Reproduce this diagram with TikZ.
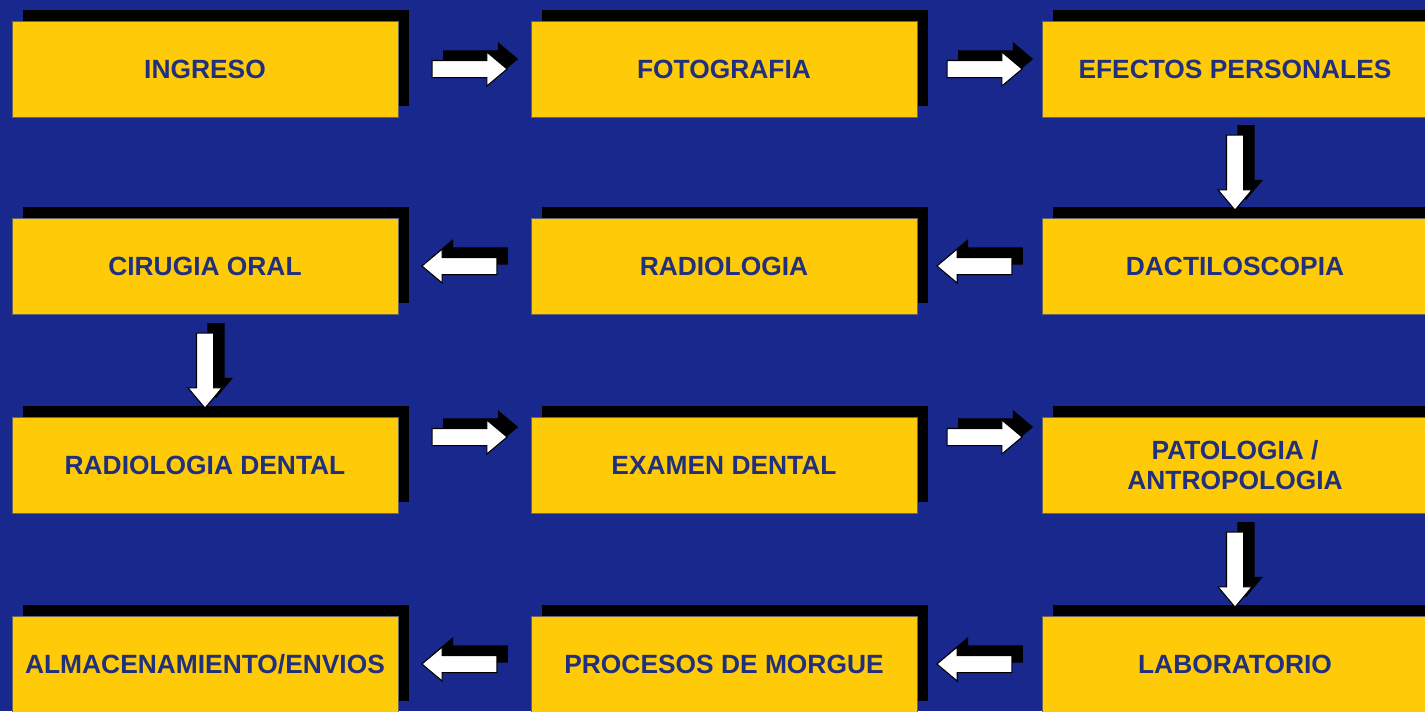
\documentclass[tikz,border=0pt]{standalone}
\usepackage{fontspec}
\setmainfont{Liberation Sans}
\usetikzlibrary{shapes.arrows,shadows,calc}
\definecolor{fondo}{RGB}{24,40,140}
\definecolor{amarillo}{RGB}{255,202,8}
\definecolor{letra}{RGB}{32,48,125}
\tikzset{
  paso/.style={rectangle,fill=amarillo,draw=black!60,line width=0.3pt,
    minimum width=7.72cm,minimum height=1.92cm,align=center,text=letra,
    font=\fontsize{15}{17.5}\selectfont\bfseries,
    drop shadow={shadow xshift=0.22cm,shadow yshift=0.22cm,fill=black,opacity=1}},
  flecha/.style={single arrow,fill=white,draw=black,line width=0.6pt,
    minimum height=1.5cm,inner sep=0.16cm,
    single arrow head extend=0.17cm,single arrow tip angle=80,
    drop shadow={shadow xshift=0.22cm,shadow yshift=0.2cm,fill=black,opacity=1}}
}

\begin{document}
\begin{tikzpicture}
\fill[fondo] (0,0) rectangle (28.5,-14.22);
\useasboundingbox (0,0) rectangle (28.5,-14.22);

\coordinate (A) at (4.1,-1.38);
\coordinate (B) at (14.48,-1.38);
\coordinate (C) at (24.7,-1.38);
\coordinate (D) at (24.7,-5.32);
\coordinate (E) at (14.48,-5.32);
\coordinate (F) at (4.1,-5.32);
\coordinate (G) at (4.1,-9.3);
\coordinate (H) at (14.48,-9.3);
\coordinate (I) at (24.7,-9.3);
\coordinate (J) at (24.7,-13.28);
\coordinate (K) at (14.48,-13.28);
\coordinate (L) at (4.1,-13.28);

\node[paso] (A1) at (A) {INGRESO};
\node[paso] (B1) at (B) {FOTOGRAFIA};
\node[paso] (C1) at (C) {EFECTOS PERSONALES};
\node[paso] (D1) at (D) {DACTILOSCOPIA};
\node[paso] (E1) at (E) {RADIOLOGIA};
\node[paso] (F1) at (F) {CIRUGIA ORAL};
\node[paso] (G1) at (G) {RADIOLOGIA DENTAL};
\node[paso] (H1) at (H) {EXAMEN DENTAL};
\node[paso] (I1) at (I) {PATOLOGIA /\\ANTROPOLOGIA};
\node[paso] (J1) at (J) {LABORATORIO};
\node[paso] (K1) at (K) {PROCESOS DE MORGUE};
\node[paso] (L1) at (L) {ALMACENAMIENTO/ENVIOS};

\node[flecha] (AB) at ($(A1.east)!0.5!(B1.west)$) {};
\node[flecha] (BC) at ($(B1.east)!0.5!(C1.west)$) {};
\node[flecha,shape border rotate=270] (CD) at ($(C1.south)!0.5!(D1.north)$) {};
\node[flecha,shape border rotate=180] (DE) at ($(D1.west)!0.5!(E1.east)$) {};
\node[flecha,shape border rotate=180] (EF) at ($(E1.west)!0.5!(F1.east)$) {};
\node[flecha,shape border rotate=270] (FG) at ($(F1.south)!0.5!(G1.north)$) {};
\node[flecha,yshift=0.56cm] (GH) at ($(G1.east)!0.5!(H1.west)$) {};
\node[flecha,yshift=0.56cm] (HI) at ($(H1.east)!0.5!(I1.west)$) {};
\node[flecha,shape border rotate=270] (IJ) at ($(I1.south)!0.5!(J1.north)$) {};
\node[flecha,shape border rotate=180] (JK) at ($(J1.west)!0.5!(K1.east)$) {};
\node[flecha,shape border rotate=180] (KL) at ($(K1.west)!0.5!(L1.east)$) {};

\end{tikzpicture}
\end{document}
